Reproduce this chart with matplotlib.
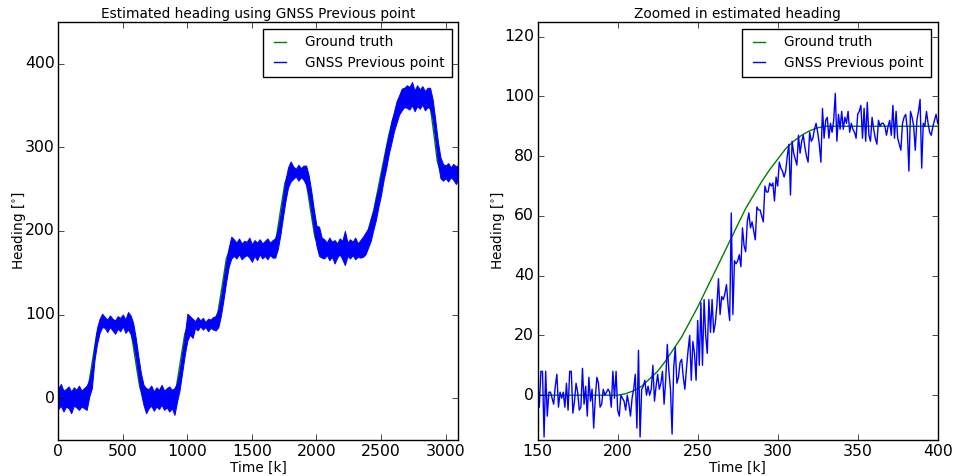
import numpy as np
import matplotlib
matplotlib.use("Agg")
import matplotlib.pyplot as plt
from matplotlib.lines import Line2D

# ---------------------------------------------------------------- data
# Full run: ground-truth heading (breakpoints of the manoeuvres)
truth_t = [0, 200, 232, 265, 298, 330, 533, 566, 598, 631, 664,
           882, 914, 947, 980, 1012, 1204, 1237, 1270, 1302, 1335,
           1657, 1690, 1722, 1755, 1787, 1889, 1922, 1954, 1987, 2019,
           2328, 2386, 2444, 2502, 2561, 2619, 2677,
           2857, 2883, 2910, 2936, 2962, 3100]
truth_v = [0, 0, 13, 45, 77, 90, 90, 77, 45, 13, 0,
           0, 13, 45, 77, 90, 90, 103, 135, 167, 180,
           180, 193, 225, 257, 270, 270, 257, 225, 193, 180,
           180, 192, 225, 270, 315, 348, 360,
           360, 347, 315, 283, 270, 270]

# Full run: spread (lowest / highest value) of the GNSS estimate, every 20 k
band_t = np.arange(0, 3101, 20)
band_high = [12, 17, 9, 11, 14, 8, 13, 10, 15, 9, 12,
             15, 22, 37, 62, 84, 95, 101,
             97, 94, 99, 95, 93, 98, 96, 100, 94, 103,
             99, 90, 72, 50, 30, 16, 12,
             11, 15, 8, 13, 10, 16, 9, 12, 14, 10,
             12, 18, 34, 55, 76, 101, 98,
             95, 92, 97, 93, 96, 91, 95, 94, 97,
             98, 106, 121, 142, 163, 180, 193,
             190, 186, 191, 185, 188, 187, 192, 184, 189, 186, 190, 185, 188, 191, 186, 189,
             191, 201, 219, 240, 261, 276, 283,
             277, 274, 279, 275, 278,
             278, 266, 247, 225, 206, 205, 192,
             190, 186, 192, 187, 189, 185, 191, 188, 200, 186, 190, 187, 192, 185, 189,
             193, 198, 203, 214, 224, 239, 251, 268, 284, 301, 315, 331, 342, 355, 362, 370, 371, 374,
             372, 378, 368, 374, 369, 373, 367, 371,
             371, 357, 333, 307, 288, 280,
             278, 281, 276, 280, 277, 279]
band_low = [-13, -9, -16, -10, -12, -18, -9, -11, -14, -10, -12,
            -14, 2, 12, 45, 65, 78, 85,
            84, 79, 85, 81, 77, 83, 80, 86, 78, 82,
            77, 66, 48, 26, 6, -8, -18,
            -12, -9, -15, -10, -13, -8, -14, -11, -16, -12,
            -20, -4, 10, 31, 52, 69, 76,
            72, 84, 81, 86, 82, 85, 80, 84, 82,
            81, 85, 99, 118, 139, 157, 167,
            170, 167, 172, 166, 169, 171, 168, 163, 170, 165, 172, 167, 170, 166, 171, 168,
            168, 178, 195, 216, 236, 252, 259,
            262, 265, 260, 264, 261,
            255, 242, 223, 201, 182, 170, 168,
            167, 171, 165, 169, 161, 168, 172, 166, 159, 170, 167, 171, 166, 169, 168,
            169, 172, 180, 188, 201, 213, 229, 243, 261, 275, 292, 305, 319, 329, 339, 344, 348, 347,
            345, 350, 343, 349, 346, 351, 344, 348,
            346, 333, 309, 282, 263, 260,
            263, 259, 264, 261, 256, 262]

# Zoomed window 150-400 k
zoom_truth_t = np.arange(150, 401, 5)
zoom_truth_v = [0, 0, 0, 0, 0, 0, 0, 0, 0, 0,
                0, 0.5, 1.5, 3, 5.5, 8, 11.5, 15.5, 19.5, 24.5,
                29.5, 35, 40.5, 46, 51.5, 57, 62.5, 67, 71.5, 75.5,
                79, 82.5, 85, 87, 88.5, 89.5, 90,
                90, 90, 90, 90, 90, 90, 90, 90, 90, 90, 90, 90, 90, 90]

zoom_k = np.arange(150, 401)
zoom_gnss = [6, -4, 8, 8, -14, 8, -7, 1, 1, -1,
             -3, 3, 7, -4, 1, -1, 1, -4, 4, -5,
             8, 8, -6, -2, 4, 1, -5, -4, 9, -3,
             3, -7, 6, -2, 2, -11, -1, 6, 4, -4,
             -3, 2, 0, 1, 2, 1, -4, 8, -1, 8,
             -5, -7, 0, -1, -2, -5, 0, -3, -7, -1,
             2, 7, -11, 15, -14, 2, 3, 5, 0, 3,
             0, 2, 10, -2, 3, 7, 2, 4, 8, -3,
             5, 17, 8, 2, -13, 9, 16, 4, 6, 11,
             12, 6, 2, 9, 15, 20, 5, 18, 14, 5,
             25, 10, 31, 10, 32, 20, 14, 32, 21, 32,
             21, 24, 30, 39, 27, 33, 32, 34, 37, 30,
             25, 61, 27, 45, 44, 45, 47, 43, 56, 50,
             48, 58, 61, 56, 58, 55, 52, 63, 62, 62,
             60, 58, 70, 68, 68, 71, 70, 71, 65, 73,
             70, 78, 76, 75, 73, 75, 80, 84, 67, 85,
             81, 79, 77, 87, 81, 85, 87, 83, 80, 78,
             88, 85, 86, 89, 91, 88, 84, 78, 96, 86,
             92, 93, 86, 91, 88, 92, 101, 85, 94, 89,
             95, 89, 93, 91, 95, 88, 91, 89, 88, 86,
             94, 95, 97, 86, 96, 85, 98, 87, 85, 93,
             89, 86, 84, 92, 90, 91, 91, 90, 87, 90,
             92, 87, 97, 86, 95, 86, 84, 82, 91, 93,
             94, 89, 75, 95, 93, 90, 82, 92, 95, 99,
             76, 91, 90, 95, 91, 88, 87, 90, 92, 94,
             91]

# ---------------------------------------------------------------- style
plt.style.use("classic")
plt.rcParams["font.family"] = ["DejaVu Sans"]
plt.rcParams["font.size"] = 9.8
plt.rcParams["mathtext.fontset"] = "dejavusans"

TRUTH_C = (0.0, 0.5, 0.0)
GNSS_C = (0.0, 0.0, 1.0)
TICK_FS = 11.3
TEXT_FS = 9.8

fig = plt.figure(figsize=(9.54, 4.76), dpi=100)
fig.patch.set_facecolor("white")
ax1 = fig.add_axes([0.0611, 0.0756, 0.4195, 0.8788])
ax2 = fig.add_axes([0.5636, 0.0756, 0.4193, 0.8788])

# ---------------------------------------------------------------- full run
ax1.plot(truth_t, truth_v, color=TRUTH_C, lw=1.0, zorder=1)
ax1.fill_between(band_t, band_low, band_high, facecolor=GNSS_C,
                 edgecolor=GNSS_C, lw=0.7, zorder=2)
ax1.set_xlim(0, 3100)
ax1.set_ylim(-50, 450)
ax1.set_xticks([0, 500, 1000, 1500, 2000, 2500, 3000])
ax1.set_yticks([0, 100, 200, 300, 400])
ax1.set_title("Estimated heading using GNSS Previous point", fontsize=TEXT_FS, pad=3)

# ---------------------------------------------------------------- zoom
ax2.plot(zoom_truth_t, zoom_truth_v, color=TRUTH_C, lw=1.0)
ax2.plot(zoom_k, zoom_gnss, color=GNSS_C, lw=1.0)
ax2.set_xlim(150, 400)
ax2.set_ylim(-15, 125)
ax2.set_xticks([150, 200, 250, 300, 350, 400])
ax2.set_yticks([0, 20, 40, 60, 80, 100, 120])
ax2.set_title("Zoomed in estimated heading", fontsize=TEXT_FS, pad=3)

handles = [Line2D([], [], color=TRUTH_C, lw=1.0),
           Line2D([], [], color=GNSS_C, lw=1.0)]
labels = ["Ground truth", "GNSS Previous point"]
for ax in (ax1, ax2):
    ax.set_xlabel("Time [k]", fontsize=TEXT_FS, labelpad=1)
    ax.set_ylabel(r"Heading [$^{\circ}$]", fontsize=TEXT_FS, labelpad=-2.2)
    ax.tick_params(labelsize=TICK_FS)
    ax.tick_params(axis="y", pad=2.5)
    ax.tick_params(axis="x", pad=3)
    leg = ax.legend(handles, labels, loc="upper right", fontsize=TEXT_FS,
                    handlelength=1.5, handletextpad=1.1, borderpad=0.5,
                    labelspacing=0.5, borderaxespad=0.5, fancybox=False)
    leg.get_frame().set_linewidth(1.0)

fig.savefig("out.png", dpi=100, facecolor="white")
